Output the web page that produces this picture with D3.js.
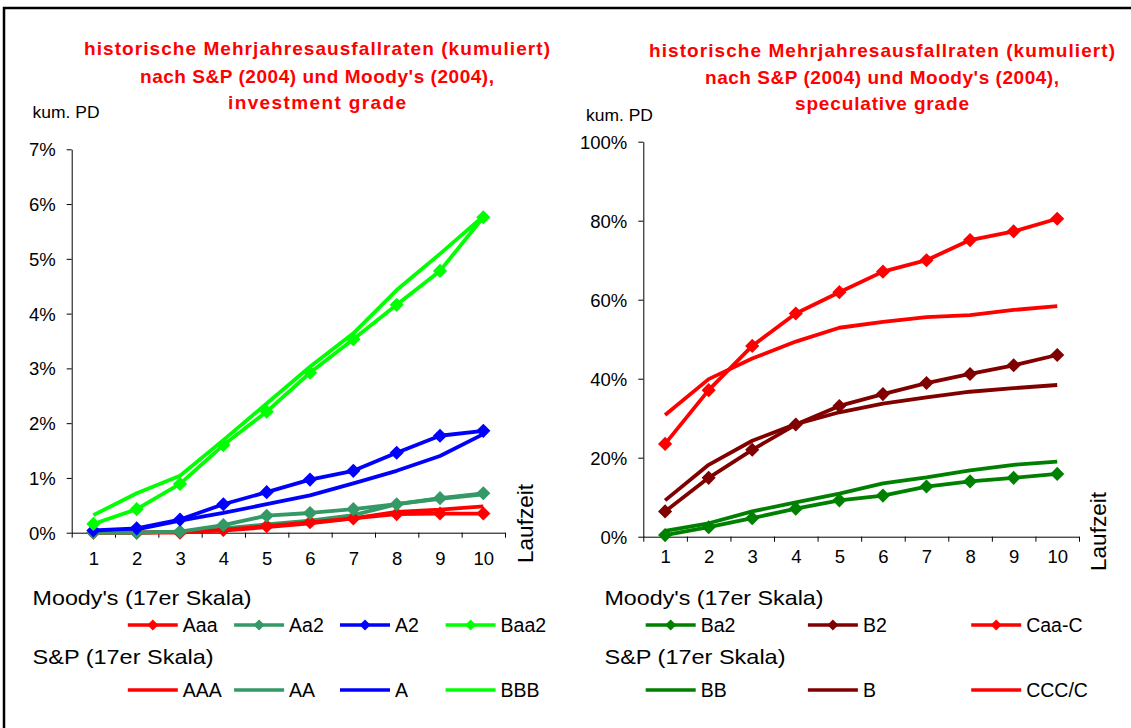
<!DOCTYPE html>
<html><head><meta charset="utf-8">
<script src="https://cdn.jsdelivr.net/npm/d3@7"></script>
<style>html,body{margin:0;padding:0;background:#fff;} svg{display:block;font-family:"Liberation Sans",Arial,sans-serif;}</style>
</head><body><svg id="c" width="1131" height="728"></svg>
<script>
// ---------- data ----------
const years = [1,2,3,4,5,6,7,8,9,10];
const igTicks = [0,1,2,3,4,5,6,7];          // %
const sgTicks = [0,20,40,60,80,100];        // %
const titleIG = ["historische Mehrjahresausfallraten (kumuliert)", "nach S&P (2004) und Moody's (2004),", "investment grade"];
const titleSG = ["historische Mehrjahresausfallraten (kumuliert)", "nach S&P (2004) und Moody's (2004),", "speculative grade"];
const yLabel = "kum. PD";
const xLabel = "Laufzeit";
const moodyHead = "Moody's (17er Skala)";
const spHead = "S&P (17er Skala)";

// investment grade (cumulative PD in %)
const moodyAaa = [0, 0, 0, 0.05, 0.12, 0.19, 0.26, 0.34, 0.35, 0.35];
const moodyAa2 = [0, 0, 0.02, 0.14, 0.31, 0.36, 0.43, 0.52, 0.63, 0.72];
const moodyA2  = [0.04, 0.08, 0.24, 0.52, 0.74, 0.97, 1.13, 1.46, 1.77, 1.86];
const moodyBaa2= [0.16, 0.43, 0.89, 1.60, 2.21, 2.92, 3.53, 4.16, 4.78, 5.76];
const spAAA = [0, 0, 0.02, 0.04, 0.10, 0.17, 0.26, 0.38, 0.42, 0.48];
const spAA  = [0, 0, 0.02, 0.08, 0.15, 0.22, 0.32, 0.52, 0.62, 0.70];
const spA   = [0.02, 0.06, 0.22, 0.36, 0.52, 0.68, 0.90, 1.13, 1.40, 1.80];
const spBBB = [0.32, 0.72, 1.04, 1.69, 2.36, 3.03, 3.64, 4.43, 5.09, 5.78];

// speculative grade (cumulative PD in %)
const moodyBa2 = [0.4, 2.4, 4.7, 7.1, 9.2, 10.4, 12.7, 14.0, 14.9, 15.9];
const moodyB2  = [6.4, 14.9, 22.0, 28.4, 33.1, 36.1, 38.9, 41.2, 43.4, 46.0];
const moodyCaa = [23.5, 37.1, 48.3, 56.5, 61.9, 67.1, 70.0, 75.1, 77.3, 80.5];
const spBB  = [1.5, 3.4, 6.4, 8.7, 10.9, 13.5, 15.0, 16.8, 18.2, 19.0];
const spB   = [9.2, 18.2, 24.3, 28.5, 31.5, 33.7, 35.3, 36.7, 37.6, 38.4];
const spCCC = [30.8, 39.9, 45.1, 49.4, 52.9, 54.4, 55.6, 56.1, 57.4, 58.4];

const igMoodyNames = ["Aaa","Aa2","A2","Baa2"];
const igSpNames = ["AAA","AA","A","BBB"];
const sgMoodyNames = ["Ba2","B2","Caa-C"];
const sgSpNames = ["BB","B","CCC/C"];

// ---------- drawing ----------
const svg = d3.select("#c");
const FONT = '"Liberation Sans",Arial,sans-serif';
svg.append("rect").attr("x",0).attr("y",0).attr("width",1131).attr("height",728).attr("fill","#fff");
svg.append("rect").attr("x",4).attr("y",8).attr("width",1150).attr("height",740)
  .attr("fill","none").attr("stroke","#000").attr("stroke-width",2.5);

const diamond = d3.symbol().type(d3.symbolSquare);

function panel(cfg){
  const g = svg.append("g");
  // title
  cfg.title.forEach((t,i)=>{
    g.append("text").attr("x",cfg.titleX).attr("y",cfg.titleY[i])
      .attr("text-anchor","middle").attr("font-weight","bold").attr("font-size",19)
      .attr("fill","#ff0000").attr("textLength",cfg.titleW[i]).attr("lengthAdjust","spacing")
      .text(t);
  });
  g.append("text").attr("x",cfg.ylabX).attr("y",cfg.ylabY).attr("font-size",17)
    .attr("textLength",67).attr("lengthAdjust","spacingAndGlyphs").text(yLabel);

  const xe = d3.scaleLinear().domain([0.5,10.5]).range([cfg.x0,cfg.x1]);
  const y = d3.scaleLinear().domain([0,cfg.ymax]).range([cfg.y0,cfg.y1]);

  // y axis
  const ya = g.append("g").attr("transform",`translate(${cfg.x0},0)`)
    .call(d3.axisLeft(y).tickValues(cfg.yticks).tickSize(5).tickSizeOuter(0).tickPadding(11)
      .tickFormat(d=>d+"%"));
  ya.selectAll("text").attr("font-size",18.5).attr("font-family",FONT).attr("fill","#000").attr("dy","0.35em");
  ya.selectAll("line,path").attr("stroke","#000");
  // x axis: edge ticks
  const xt = g.append("g").attr("transform",`translate(0,${cfg.y0})`)
    .call(d3.axisBottom(xe).tickValues(d3.range(0.5,11,1)).tickSize(5).tickSizeOuter(0).tickFormat(""));
  xt.selectAll("line,path").attr("stroke","#000");
  const xl = g.append("g").attr("transform",`translate(0,${cfg.y0})`)
    .call(d3.axisBottom(xe).tickValues(years).tickSize(0).tickPadding(cfg.xpad));
  xl.select("path").remove();
  xl.selectAll("text").attr("font-size",18.5).attr("font-family",FONT).attr("fill","#000");

  g.append("text").attr("transform",`translate(${cfg.lzX},${cfg.lzY}) rotate(-90)`)
    .attr("font-size",22).attr("textLength",79).attr("lengthAdjust","spacingAndGlyphs").text(xLabel);

  const line = d3.line().x((d,i)=>xe(years[i])).y(d=>y(d));
  // S&P lines (no markers)
  cfg.sp.forEach(s=>{
    g.append("path").attr("d",line(s.v)).attr("fill","none").attr("stroke",s.c)
      .attr("stroke-width",3.8).attr("stroke-linejoin","round");
  });
  // Moody's lines with markers
  cfg.moody.forEach(s=>{
    g.append("path").attr("d",line(s.v)).attr("fill","none").attr("stroke",s.c)
      .attr("stroke-width",3.8).attr("stroke-linejoin","round");
    g.selectAll(null).data(s.v).enter().append("path")
      .attr("d",diamond.size(100)())
      .attr("transform",(d,i)=>`translate(${xe(years[i])},${y(d)}) rotate(45)`)
      .attr("fill",s.c);
  });

  // legend
  g.append("text").attr("x",cfg.legX).attr("y",605).attr("font-size",21)
    .attr("textLength",219).attr("lengthAdjust","spacingAndGlyphs").text(moodyHead);
  g.append("text").attr("x",cfg.legX).attr("y",664).attr("font-size",21)
    .attr("textLength",181).attr("lengthAdjust","spacingAndGlyphs").text(spHead);
  cfg.moody.forEach((s,i)=>{
    const lx = cfg.legCols[i], ly = 625;
    g.append("line").attr("x1",lx).attr("x2",lx+50).attr("y1",ly).attr("y2",ly)
      .attr("stroke",s.c).attr("stroke-width",3.5);
    g.append("path").attr("d",diamond.size(60)()).attr("transform",`translate(${lx+25},${ly}) rotate(45)`).attr("fill",s.c);
    g.append("text").attr("x",lx+55).attr("y",ly+7).attr("font-size",19.5).text(s.n);
  });
  cfg.sp.forEach((s,i)=>{
    const lx = cfg.legCols[i], ly = 690;
    g.append("line").attr("x1",lx).attr("x2",lx+50).attr("y1",ly).attr("y2",ly)
      .attr("stroke",s.c).attr("stroke-width",3.5);
    g.append("text").attr("x",lx+55).attr("y",ly+7).attr("font-size",19.5).text(s.n);
  });
}

const igColors = ["#ff0000","#339966","#0000ff","#00ff00"];
const sgColors = ["#008000","#800000","#ff0000"];

panel({
  title:titleIG, titleX:317, titleY:[55,83,109], titleW:[466,354,178],
  ylabX:32.6, ylabY:118,
  x0:71.7, x1:505, y0:532.7, y1:149.3, ymax:7, yticks:igTicks, xpad:19,
  lzX:533, lzY:563,
  moody:[moodyAaa,moodyAa2,moodyA2,moodyBaa2].map((v,i)=>({v,c:igColors[i],n:igMoodyNames[i]})),
  sp:[spAAA,spAA,spA,spBBB].map((v,i)=>({v,c:igColors[i],n:igSpNames[i]})),
  legX:32.6, legCols:[127.8,234.1,340,445.6]
});
panel({
  title:titleSG, titleX:882, titleY:[57,84,110], titleW:[466,354,174],
  ylabX:586, ylabY:120.5,
  x0:643.3, x1:1079, y0:536.7, y1:141.7, ymax:100, yticks:sgTicks, xpad:13,
  lzX:1106, lzY:571,
  moody:[moodyBa2,moodyB2,moodyCaa].map((v,i)=>({v,c:sgColors[i],n:sgMoodyNames[i]})),
  sp:[spBB,spB,spCCC].map((v,i)=>({v,c:sgColors[i],n:sgSpNames[i]})),
  legX:604.5, legCols:[645.7,807.9,971.2]
});
</script></body></html>
